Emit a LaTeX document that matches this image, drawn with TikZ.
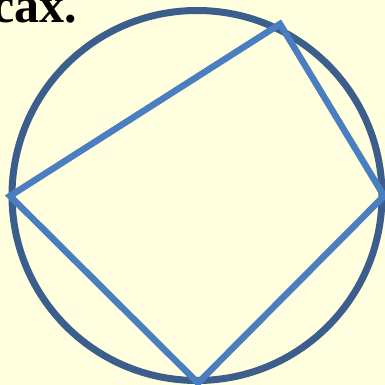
\documentclass[tikz,border=0pt]{standalone}
\usepackage{fontspec}
\setmainfont{Liberation Serif}
\definecolor{bgyellow}{RGB}{255,255,224}
\definecolor{circblue}{RGB}{59,94,140}
\definecolor{sqblue}{RGB}{74,126,193}
\tikzset{
  circ/.style={draw=circblue,line width=7pt},
  quad/.style={draw=sqblue,line width=6.5pt,line join=miter},
  label/.style={font=\bfseries\fontsize{50}{50}\selectfont,inner sep=0pt,anchor=base west}
}
\begin{document}
\begin{tikzpicture}[x=1pt,y=-1pt]
\fill[bgyellow] (0,0) rectangle (385,385);
\useasboundingbox (0,0) rectangle (385,385);
\node[label] (t) at (-8,23) {cax.};
\coordinate (c) at (197,195.5);
\draw[circ] (c) circle[radius=185];
\coordinate (A) at (280,24);
\coordinate (B) at (384,196);
\coordinate (C) at (198,383);
\coordinate (D) at (10,196);
\draw[quad] (A) -- (B) -- (C) -- (D) -- cycle;
\end{tikzpicture}
\end{document}
